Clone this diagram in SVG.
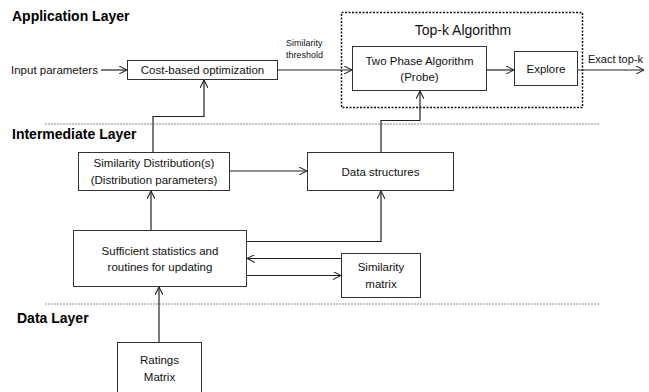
<svg xmlns="http://www.w3.org/2000/svg" width="649" height="392" viewBox="0 0 649 392">
<style>
.t{font-family:"Liberation Sans",Arial,sans-serif;font-size:11.5px;fill:#111}
.s{font-family:"Liberation Sans",Arial,sans-serif;font-size:9px;fill:#111}
.h{font-family:"Liberation Sans",Arial,sans-serif;font-size:14px;font-weight:bold;fill:#000}
.box{fill:#fff;stroke:#333;stroke-width:1}
.c{fill:none;stroke:#222;stroke-width:1.2}
.sep{stroke:#888;stroke-width:1;stroke-dasharray:2,1}
</style>
<defs>
<marker id="a" viewBox="0 0 10 10" refX="10" refY="5" markerWidth="8" markerHeight="8" markerUnits="userSpaceOnUse" orient="auto">
<path d="M0,0 L10,5 L0,10" fill="none" stroke="#222" stroke-width="1.3"/>
</marker>
</defs>
<rect width="649" height="392" fill="#fff"/>
<g id="labels">
<text class="h" x="12" y="21">Application Layer</text>
<text class="h" x="12" y="139">Intermediate Layer</text>
<text class="h" x="17" y="323">Data Layer</text>
<line class="sep" x1="45" y1="124" x2="600" y2="124"/>
<line class="sep" x1="45" y1="304" x2="600" y2="304"/>
</g>
<g id="input"><text class="t" x="11" y="74">Input parameters</text></g>
<g id="cost"><rect class="box" x="127.5" y="60.5" width="150" height="19"/><text class="t" x="202.5" y="74" text-anchor="middle">Cost-based optimization</text></g>
<g id="topk"><rect x="341.5" y="12.5" width="241" height="95" fill="none" stroke="#111" stroke-width="1.5" stroke-dasharray="2,1.5"/><text class="t" x="463" y="35" text-anchor="middle" style="font-size:14px">Top-k Algorithm</text></g>
<g id="twophase"><rect class="box" x="352.5" y="46.5" width="134" height="44" stroke="#777"/><text class="t" x="419.5" y="65" text-anchor="middle">Two Phase Algorithm</text><text class="t" x="419.5" y="81" text-anchor="middle">(Probe)</text></g>
<g id="explore"><rect class="box" x="514.5" y="51.5" width="63" height="34" stroke="#111"/><text class="t" x="546" y="73" text-anchor="middle">Explore</text></g>
<g id="exact"><text class="t" x="588" y="63" style="font-size:11px">Exact top-k</text></g>
<g id="simthr"><text class="s" x="286" y="46">Similarity</text><text class="s" x="286" y="58">threshold</text></g>
<g id="simdist"><rect class="box" x="78.5" y="152.5" width="151" height="38" stroke="#777"/><text class="t" x="154" y="167" text-anchor="middle">Similarity Distribution(s)</text><text class="t" x="154" y="184" text-anchor="middle">(Distribution parameters)</text></g>
<g id="datastruct"><rect class="box" x="307.5" y="152.5" width="146" height="38"/><text class="t" x="380.5" y="176" text-anchor="middle">Data structures</text></g>
<g id="suff"><rect class="box" x="73.5" y="230.5" width="173" height="56" stroke="#111"/><text class="t" x="160" y="255" text-anchor="middle">Sufficient statistics and</text><text class="t" x="160" y="271" text-anchor="middle">routines for updating</text></g>
<g id="simmatrix"><rect class="box" x="341.5" y="253.5" width="79" height="44"/><text class="t" x="381" y="271" text-anchor="middle">Similarity</text><text class="t" x="381" y="288" text-anchor="middle">matrix</text></g>
<g id="ratings"><rect class="box" x="117.5" y="342.5" width="84" height="60"/><text class="t" x="159.5" y="364" text-anchor="middle">Ratings</text><text class="t" x="159.5" y="381" text-anchor="middle">Matrix</text></g>
<g id="connectors">
<line class="c" x1="101" y1="70" x2="127" y2="70" marker-end="url(#a)"/>
<line class="c" x1="277.5" y1="70" x2="352" y2="70" marker-end="url(#a)"/>
<line class="c" x1="486.5" y1="70" x2="514" y2="70" marker-end="url(#a)"/>
<line class="c" x1="577.5" y1="70" x2="644" y2="70" marker-end="url(#a)"/>
<polyline class="c" points="153,152 153,116.5 204,116.5 204,80" marker-end="url(#a)"/>
<polyline class="c" points="381,152 381,120.5 420,120.5 420,91" marker-end="url(#a)"/>
<line class="c" x1="229.5" y1="171" x2="307" y2="171" marker-end="url(#a)"/>
<line class="c" x1="151" y1="230" x2="151" y2="191" marker-end="url(#a)"/>
<polyline class="c" points="246.5,241.5 381,241.5 381,191" marker-end="url(#a)"/>
<line class="c" x1="341" y1="258.5" x2="247" y2="258.5" marker-end="url(#a)"/>
<line class="c" x1="246.5" y1="275.5" x2="341" y2="275.5" marker-end="url(#a)"/>
<line class="c" x1="159" y1="342" x2="159" y2="287" marker-end="url(#a)"/>
</g>
</svg>
